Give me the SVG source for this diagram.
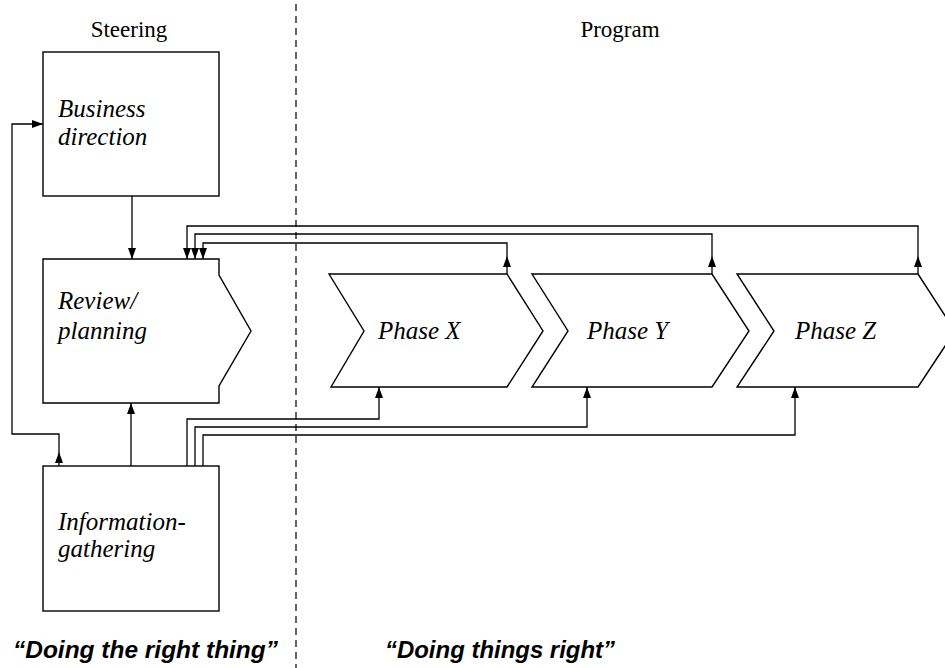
<svg xmlns="http://www.w3.org/2000/svg" width="945" height="668" viewBox="0 0 945 668">
<style>
.box{fill:#fff;stroke:#000;stroke-width:1.4}
.ln{fill:none;stroke:#000;stroke-width:1.3}
.arr{marker-end:url(#ah)}
.lbl{font-family:"Liberation Serif",serif;font-style:italic;font-size:25px;fill:#000}
.hdr{font-family:"Liberation Serif",serif;font-size:23px;fill:#000}
.tag{font-family:"Liberation Sans",Arial,sans-serif;font-style:italic;font-weight:bold;font-size:24px;fill:#000}
</style>
<defs>
<marker id="ah" markerUnits="userSpaceOnUse" markerWidth="11" markerHeight="8" refX="11" refY="4" orient="auto">
<path d="M0,0 L11,4 L0,8 z" fill="#000"/>
</marker>
</defs>
<rect width="945" height="668" fill="#fff"/>
<line x1="296" y1="4" x2="296" y2="668" stroke="#000" stroke-width="1.2" stroke-dasharray="7 5"/>
<text class="hdr" x="129" y="37" text-anchor="middle">Steering</text>
<text class="hdr" x="620" y="37" text-anchor="middle">Program</text>

<g id="business">
<rect class="box" x="43" y="52" width="176" height="144"/>
<text class="lbl" x="58" y="117">Business</text>
<text class="lbl" x="58" y="145">direction</text>
</g>
<g id="review">
<path class="box" d="M43,259 H219 V275 L251,331 L219,386 V403 H43 Z"/>
<text class="lbl" x="58" y="309">Review/</text>
<text class="lbl" x="58" y="339">planning</text>
</g>
<g id="info">
<rect class="box" x="43" y="466" width="176" height="145"/>
<text class="lbl" x="58" y="530">Information-</text>
<text class="lbl" x="58" y="557">gathering</text>
</g>
<g id="phaseX">
<path class="box" d="M329,274 H507 L543,331 L507,387 H331 L364,331 Z"/>
<text class="lbl" x="378" y="339">Phase X</text>
</g>
<g id="phaseY">
<path class="box" d="M532,274 H712 L749,331 L712,387 H532 L568,331 Z"/>
<text class="lbl" x="587" y="339">Phase Y</text>
</g>
<g id="phaseZ">
<path class="box" d="M737,274 H918 L955,331 L918,387 H737 L774,331 Z"/>
<text class="lbl" x="795" y="339">Phase Z</text>
</g>

<g id="connectors">
<path class="ln arr" d="M132,196 V259"/>
<path class="ln arr" d="M131,466 V403"/>
<path class="ln arr" d="M59,466 V452"/>
<path class="ln arr" d="M59,452 V434 H12 V124 H43"/>
<path class="ln arr" d="M918,274 V256"/>
<path class="ln arr" d="M918,256 V226 H187 V259"/>
<path class="ln arr" d="M712,274 V256"/>
<path class="ln arr" d="M712,256 V234 H195 V259"/>
<path class="ln arr" d="M507,274 V256"/>
<path class="ln arr" d="M507,256 V243 H203 V259"/>
<path class="ln arr" d="M187,466 V419 H379 V387"/>
<path class="ln arr" d="M195,466 V427 H587 V387"/>
<path class="ln arr" d="M203,466 V435 H795 V387"/>
</g>

<text class="tag" x="13" y="658" textLength="265" lengthAdjust="spacingAndGlyphs">“Doing the right thing”</text>
<text class="tag" x="385" y="658" textLength="230" lengthAdjust="spacingAndGlyphs">“Doing things right”</text>
</svg>
